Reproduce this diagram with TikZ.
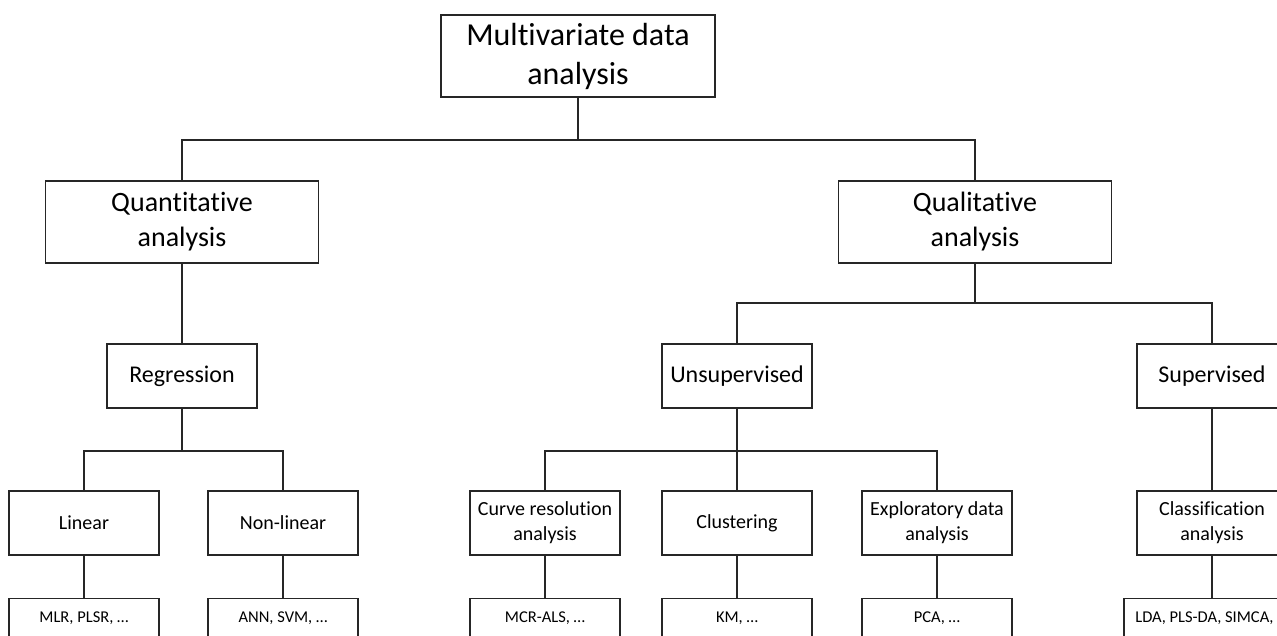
\documentclass[tikz,border=0pt]{standalone}
\usepackage{fontspec}
\setmainfont[Ligatures=NoCommon]{Carlito}
\begin{document}
\begin{tikzpicture}[x=1pt,y=-1pt,
  box/.style={draw=black!85, line width=1.2pt, fill=white, inner sep=0pt, align=center},
  lvlA/.style={box, minimum width=273pt, minimum height=82pt, font=\fontsize{28}{35}\selectfont},
  lvlB/.style={box, minimum width=150pt, minimum height=64pt, font=\fontsize{24}{29}\selectfont},
  lvlC/.style={box, minimum width=150pt, minimum height=64pt, font=\fontsize{20}{25}\selectfont},
  leaf/.style={box, minimum width=150pt, minimum height=40pt, font=\fontsize{16.5}{20}\selectfont},
  link/.style={draw=black!85, line width=1.2pt}]
\useasboundingbox (0,0) rectangle (1277,635);
\clip (0,0) rectangle (1277,635);

% bus levels
\coordinate (busA) at (0,140);
\coordinate (busB) at (0,303);
\coordinate (busC) at (0,451);

% root
\node[lvlA, minimum width=274pt, font=\fontsize{32}{39}\selectfont] (mva) at (578,56) {Multivariate data\\analysis};

% first split
\node[lvlA] (quant) at (182,222) {Quantitative\\analysis};
\node[lvlA] (qual) at (975,222) {Qualitative\\analysis};

% second level
\node[lvlB] (regr) at (182,376) {Regression};
\node[lvlB] (unsup) at (737,376) {Unsupervised};
\node[lvlB] (sup) at (1212,376) {Supervised};

% third level
\node[lvlC] (linear) at (84,523) {Linear};
\node[lvlC] (nonlin) at (283,523) {Non-linear};
\node[lvlC] (curve) at (545,523) {Curve resolution\\analysis};
\node[lvlC] (clust) at (737,523) {Clustering};
\node[lvlC] (explor) at (937,523) {Exploratory data\\analysis};
\node[lvlC] (classif) at (1212,523) {Classification\\analysis};

% methods
\node[leaf, anchor=north] (mlr) at (84,598) {MLR, PLSR, …};
\node[leaf, anchor=north] (ann) at (283,598) {ANN, SVM, …};
\node[leaf, anchor=north] (mcr) at (545,598) {MCR-ALS, …};
\node[leaf, anchor=north] (km) at (737,598) {KM, …};
\node[leaf, anchor=north] (pca) at (937,598) {PCA, …};
\node[leaf, anchor=north, minimum width=176pt] (lda) at (1212,598) {LDA, PLS-DA, SIMCA, …};

% connectors
\draw[link] (mva.south) -- (mva.south |- busA);
\draw[link] (quant.north) |- (qual.north |- busA) -- (qual.north);
\draw[link] (quant.south) -- (regr.north);

\draw[link] (qual.south) -- (qual.south |- busB);
\draw[link] (unsup.north) |- (sup.north |- busB) -- (sup.north);

\draw[link] (regr.south) -- (regr.south |- busC);
\draw[link] (linear.north) |- (nonlin.north |- busC) -- (nonlin.north);

\draw[link] (unsup.south) -- (clust.north);
\draw[link] (curve.north) |- (explor.north |- busC) -- (explor.north);

\draw[link] (sup.south) -- (classif.north);

\draw[link] (linear.south) -- (mlr.north);
\draw[link] (nonlin.south) -- (ann.north);
\draw[link] (curve.south) -- (mcr.north);
\draw[link] (clust.south) -- (km.north);
\draw[link] (explor.south) -- (pca.north);
\draw[link] (classif.south) -- (lda.north);
\end{tikzpicture}
\end{document}
